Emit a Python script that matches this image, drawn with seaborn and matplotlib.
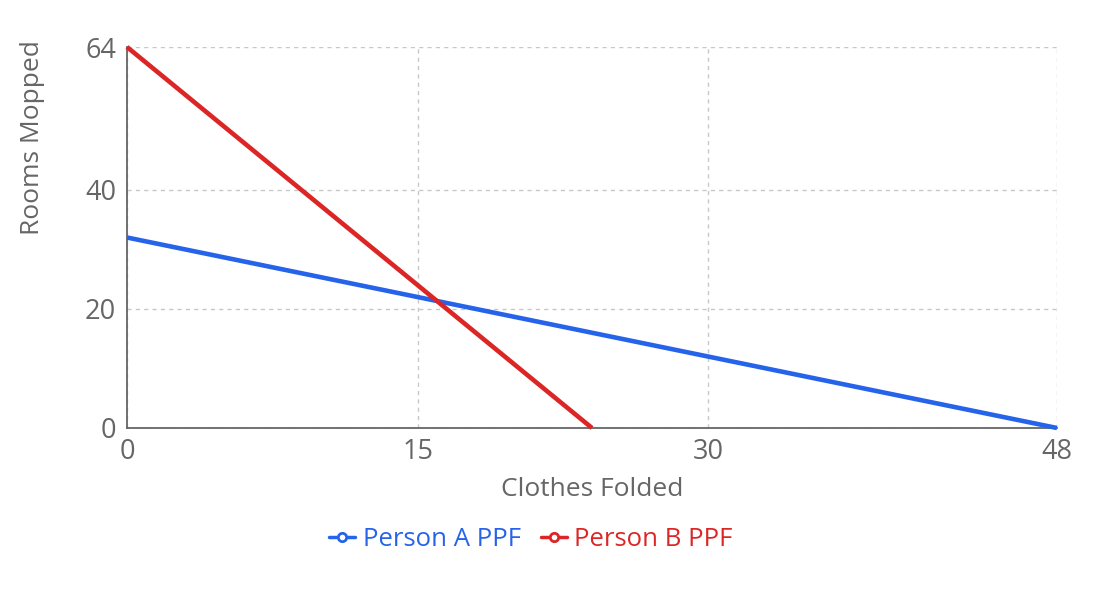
import pandas as pd
import matplotlib
matplotlib.use("Agg")
import matplotlib.pyplot as plt
import seaborn as sns
from matplotlib.lines import Line2D

# data
series_names = ["Person A PPF", "Person B PPF"]
clothes_a = [0, 48]
rooms_a = [32, 0]
clothes_b = [0, 24]
rooms_b = [64, 0]
x_ticks = [0, 15, 30, 48]
y_ticks = [0, 20, 40, 64]

colors = ["#2563eb", "#dc2626"]
grey = "#666666"

df = pd.concat([
    pd.DataFrame({"clothes": clothes_a, "rooms": rooms_a, "who": series_names[0]}),
    pd.DataFrame({"clothes": clothes_b, "rooms": rooms_b, "who": series_names[1]}),
])

sns.set_theme(style="white")
plt.rcParams["font.family"] = ["Open Sans", "DejaVu Sans"]

fig = plt.figure(figsize=(11.02, 6.01), dpi=100)
ax = fig.add_axes([127 / 1102, 1 - 428 / 601, 930 / 1102, 381 / 601])

sns.lineplot(data=df, x="clothes", y="rooms", hue="who", palette=colors,
             linewidth=3.3, legend=False, ax=ax, zorder=3)
for ln in ax.lines:
    ln.set_clip_on(False)
    ln.set_solid_capstyle("butt")

ax.set_xlim(0, 48)
ax.set_ylim(0, 64)
ax.set_xticks(x_ticks)
ax.set_yticks(y_ticks)
ax.grid(True, color="#c8c8c8", linestyle=(0, (3, 3)), linewidth=1.0)
ax.set_axisbelow(True)

for s in ["top", "right"]:
    ax.spines[s].set_visible(False)
for s in ["left", "bottom"]:
    ax.spines[s].set_color(grey)
    ax.spines[s].set_linewidth(1.3)
    ax.spines[s].set_zorder(2)

ax.tick_params(axis="both", colors=grey, labelcolor=grey, labelsize=19.5,
               length=6, width=1.3, direction="out", pad=2)
ax.tick_params(axis="x", pad=1)

ax.set_xlabel("")
ax.set_ylabel("")
fig.text(592 / 1102, 1 - 489 / 601, "Clothes Folded", ha="center", va="center",
         fontsize=19, color=grey)
fig.text(33 / 1102, 1 - 138 / 601, "Rooms Mopped", ha="center", va="center",
         rotation=90, fontsize=19, color=grey)

handles = [Line2D([0], [0], color=c, linewidth=2.5, marker="o", markersize=6,
                  markerfacecolor="white", markeredgewidth=2) for c in colors]
leg = fig.legend(handles, series_names, loc="center", bbox_to_anchor=(531 / 1102, 1 - 539 / 601),
                 ncol=2, frameon=False, fontsize=18.5, handlelength=1.0,
                 handletextpad=0.3, columnspacing=0.8)
for t, c in zip(leg.get_texts(), colors):
    t.set_color(c)

fig.savefig("out.png", dpi=100)
